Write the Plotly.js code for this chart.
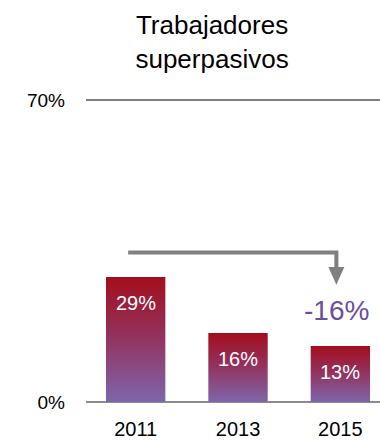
<!DOCTYPE html>
<html>
<head>
<meta charset="utf-8">
<script src="https://cdn.plot.ly/plotly-3.0.1.min.js"></script>
<style>
html,body{margin:0;padding:0;background:#fff;}
#chart{width:380px;height:441px;}
</style>
</head>
<body>
<div id="chart"></div>
<script>
// Data
const years = ['2011', '2013', '2015'];
const values = [29, 16, 13];
const valueLabels = ['29%', '16%', '13%'];
const yTickVals = [0, 70];
const yTickText = ['0%', '70%'];
const changeLabel = '-16%';
const chartTitle = 'Trabajadores<br>superpasivos';

const xIdx = years.map((_, i) => i);
const first = 0, last = years.length - 1;

const trace = {
  type: 'bar',
  x: xIdx,
  y: values,
  width: 0.58,
  marker: {color: '#92244a', line: {width: 0}},
  hoverinfo: 'skip',
  showlegend: false
};

const labelAnns = values.map((v, i) => ({
  x: i, y: v, xref: 'x', yref: 'y',
  text: valueLabels[i], showarrow: false,
  yshift: -26, yanchor: 'middle', xanchor: 'center',
  font: {size: 20, color: '#ffffff', family: 'Liberation Sans, Arial, sans-serif'}
}));

const arrowY = values[first] + 5.65;
const layout = {
  width: 380, height: 441,
  margin: {l: 86, r: 0, t: 98, b: 39, pad: 0},
  paper_bgcolor: '#ffffff', plot_bgcolor: '#ffffff',
  font: {family: 'Liberation Sans, Arial, sans-serif', color: '#000000'},
  title: {
    text: chartTitle,
    font: {size: 26, color: '#000000'},
    xref: 'container', x: 0.558, xanchor: 'center',
    yref: 'container', y: 0.922, yanchor: 'top'
  },
  xaxis: {
    range: [-0.4853, 2.3873],
    tickvals: xIdx, ticktext: years,
    showgrid: false, zeroline: false, showline: false,
    ticks: '', tickfont: {size: 20, color: '#000000'},
    ticklabelstandoff: 13,
    fixedrange: true
  },
  yaxis: {
    range: [0, 70.5],
    tickvals: yTickVals, ticktext: yTickText,
    showgrid: true, gridcolor: '#7f7f7f', gridwidth: 1.5,
    zeroline: true, zerolinecolor: '#8c8c8c', zerolinewidth: 2,
    showline: false, ticks: '',
    tickfont: {size: 19, color: '#000000'},
    ticklabelstandoff: 20,
    fixedrange: true
  },
  shapes: [
    {type: 'path', xref: 'x', yref: 'y',
     path: `M ${first - 0.0735},${arrowY} L ${last - 0.039},${arrowY} L ${last - 0.039},31.3`,
     line: {color: '#808080', width: 4}},
    {type: 'path', xref: 'x', yref: 'y',
     path: `M ${last - 0.117},31.3 L ${last + 0.039},31.3 L ${last - 0.039},27.2 Z`,
     fillcolor: '#808080', line: {width: 0}}
  ],
  annotations: labelAnns.concat([{
    x: last, y: values[last], xref: 'x', yref: 'y',
    text: changeLabel, showarrow: false,
    yshift: 35, xshift: -4, yanchor: 'middle', xanchor: 'center',
    font: {size: 28, color: '#6a4ea0', family: 'Liberation Sans, Arial, sans-serif'}
  }]),
  bargap: 0.42
};

Plotly.newPlot('chart', [trace], layout, {staticPlot: true, displayModeBar: false}).then(gd => {
  const svg = gd.querySelector('.main-svg');
  const ns = 'http://www.w3.org/2000/svg';
  let defs = svg.querySelector('defs');
  if (!defs) { defs = document.createElementNS(ns, 'defs'); svg.insertBefore(defs, svg.firstChild); }
  const grad = document.createElementNS(ns, 'linearGradient');
  grad.setAttribute('id', 'barGradient');
  grad.setAttribute('x1', '0'); grad.setAttribute('y1', '0');
  grad.setAttribute('x2', '0'); grad.setAttribute('y2', '1');
  [['0%', '#a30e1d'], ['45%', '#94305a'], ['100%', '#7e66ab']].forEach(([o, c]) => {
    const s = document.createElementNS(ns, 'stop');
    s.setAttribute('offset', o); s.setAttribute('stop-color', c);
    grad.appendChild(s);
  });
  defs.appendChild(grad);
  gd.querySelectorAll('.barlayer .point path').forEach(p => {
    p.style.fill = 'url(#barGradient)';
  });
});
</script>
</body>
</html>
